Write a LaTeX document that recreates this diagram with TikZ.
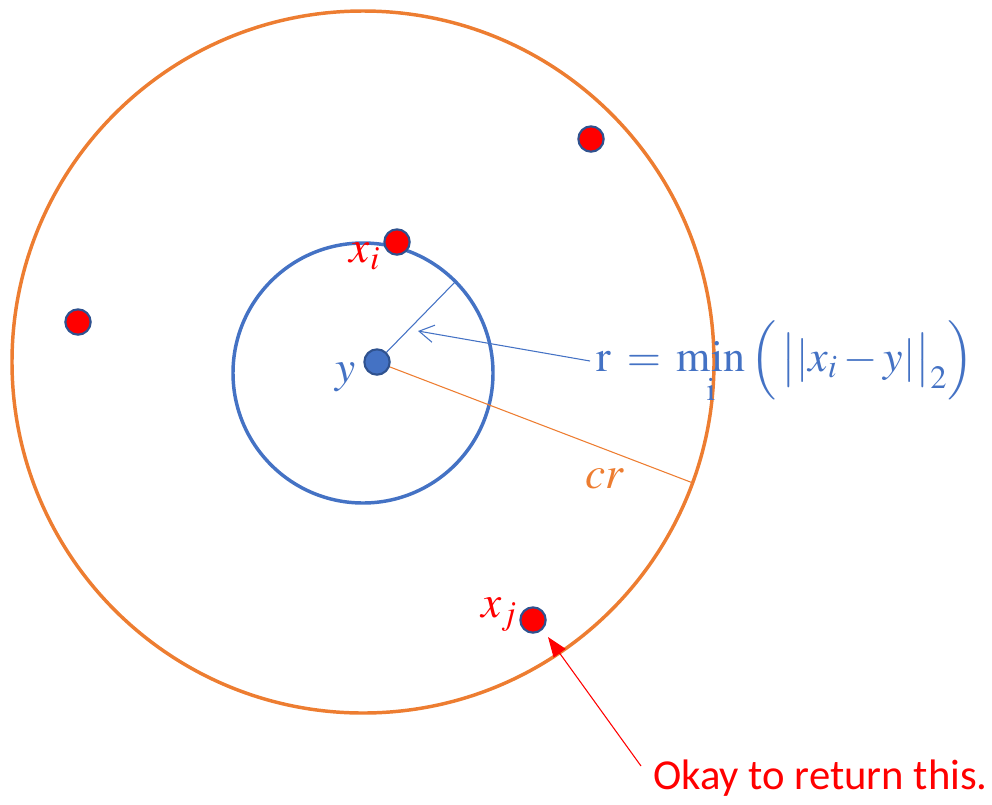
\documentclass[tikz,border=0pt]{standalone}
\usepackage{fix-cm}
\usepackage{amsmath}
\usepackage{mathptmx}
\usepackage[no-math]{fontspec}
\setmainfont{Carlito}
\usetikzlibrary{arrows.meta}
\definecolor{cblue}{HTML}{4472C4}
\definecolor{corange}{HTML}{ED7D31}
\definecolor{cdark}{HTML}{2F528F}
\definecolor{cred}{HTML}{FF0000}
\tikzset{
  dot/.style={circle, draw=cdark, line width=1.6pt, minimum size=19pt, inner sep=0pt},
  reddot/.style={dot, fill=cred},
  bluedot/.style={dot, fill=cblue},
  lbl/.style={inner sep=0pt, font=\fontsize{34}{38}\selectfont},
}
\begin{document}
\begin{tikzpicture}[x=0.75pt, y=-0.75pt]
\useasboundingbox (0,0) rectangle (992,804);
% circles
\draw[corange, line width=2.6pt] (363,362) circle[radius=351];
\draw[cblue, line width=2.6pt] (363,373) circle[radius=130];
% dots
\node[reddot] (p1) at (591,139) {};
\node[reddot] (xi) at (397,242) {};
\node[reddot] (p3) at (78,322) {};
\node[reddot] (xj) at (533,620) {};
\node[bluedot] (y) at (377,362) {};
% coordinates
\coordinate (rb) at (455,282);
\coordinate (cb) at (693,483);
\coordinate (ah) at (418,331);
\coordinate (rh) at (548,637);
\coordinate (rt) at (641,766);
% labels
\node[lbl, text=cred] (lxi) at (365,256) {$x_i$};
\node[lbl, text=cblue] (ly) at (346,377) {$y$};
\node[lbl, text=corange] (lcr) at (605,479) {$cr$};
\node[lbl, text=cred] (lxj) at (499,615) {$x_j$};
\node[inner sep=0pt, anchor=west, text=cblue, font=\fontsize{33}{38}\selectfont] (formula) at (596,363)
  {$\displaystyle\mathrm{r}\:=\:\min_{\mathrm{i}}\,\Bigl(\,\bigl\lvert\lvert x_i-y\rvert\bigr\rvert_2\Bigr)$};
\node[inner sep=0pt, anchor=west, text=cred, font=\fontsize{32}{36}\selectfont] (okay) at (653,778) {Okay to return this.};
% connectors
\draw[cblue, line width=0.8pt] (y) -- (rb);
\coordinate (fs) at (590,361);
\draw[cblue, line width=0.8pt, -{Straight Barb[length=11pt, width=13pt]}] (fs) -- (ah);
\draw[corange, line width=0.8pt] (y) -- (cb);
\draw[cred, line width=0.8pt, -{Triangle[length=15pt, width=11pt]}] (rt) -- (rh);
\end{tikzpicture}
\end{document}
